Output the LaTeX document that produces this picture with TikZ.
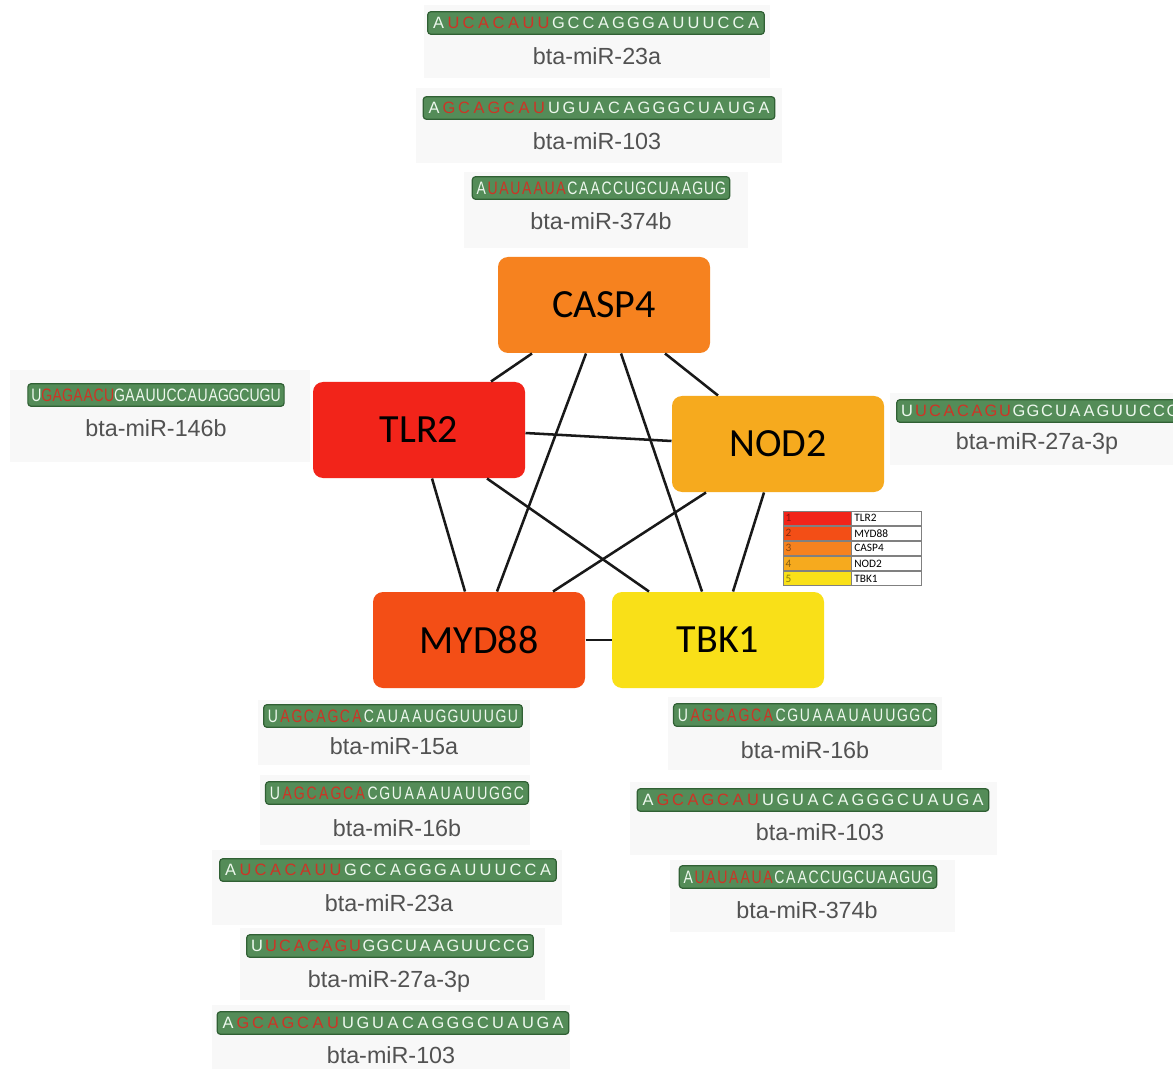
\documentclass[tikz,border=0pt]{standalone}
\usepackage{fontspec}
\setmainfont{Liberation Sans}
\newfontfamily\genefont{Carlito}
\newfontfamily\narrowfont[FakeStretch=0.78]{Liberation Sans}
\usetikzlibrary{positioning}

\definecolor{tlrcol}{RGB}{242,36,26}
\definecolor{mydcol}{RGB}{243,78,22}
\definecolor{caspcol}{RGB}{246,130,31}
\definecolor{nodcol}{RGB}{246,170,30}
\definecolor{tbkcol}{RGB}{249,224,24}
\definecolor{bargreen}{RGB}{84,140,88}
\definecolor{bardark}{RGB}{48,96,52}
\definecolor{seedred}{RGB}{205,52,38}
\definecolor{ntwhite}{RGB}{238,248,238}
\definecolor{panelgray}{RGB}{248,248,248}
\definecolor{labelgray}{RGB}{82,82,82}

% one letter per fixed slot
\newlength\slotw
\def\slotseq#1{\slotseqi#1\relax}
\def\slotseqi#1{\ifx#1\relax\else\makebox[\slotw]{#1}\expandafter\slotseqi\fi}
\newcommand\rnaseq[4]{\setlength\slotw{#1}%
  \textcolor{ntwhite}{\slotseq{#2}}%
  \textcolor{seedred}{\slotseq{#3}}%
  \textcolor{ntwhite}{\slotseq{#4}}}

\tikzset{every picture/.style={line width=0.75pt}}
\tikzset{
  gene/.style={rounded corners=7.5pt, minimum width=159pt, minimum height=72pt,
    font=\genefont\fontsize{30}{36}\selectfont, text=black},
  link/.style={line width=1.9pt, black!90},
  panel/.style={fill=panelgray},
  seqbar/.style={draw=bardark, line width=0.9pt, fill=bargreen, rounded corners=2.5pt,
    inner xsep=2.5pt, inner ysep=0pt, minimum height=17pt,
    font=\fontsize{12.3}{13}\selectfont},
  narrowbar/.style={seqbar, font=\narrowfont\fontsize{13.5}{14}\selectfont},
  mirlabel/.style={text=labelgray, font=\fontsize{17.5}{19}\selectfont, inner sep=0pt},
  legswatch/.style={draw=gray, line width=0.5pt, text width=47pt, inner xsep=2pt,
    inner ysep=0pt, minimum height=10.8pt, align=left, font=\genefont\fontsize{8.5}{9}\selectfont},
  legname/.style={legswatch, fill=white, text=black, text width=48.5pt},
}

\begin{document}
\begin{tikzpicture}[x=0.75pt,y=0.75pt,yscale=-1,xscale=1]
\useasboundingbox (0,0) rectangle (1173,1069);
\clip (0,0) rectangle (1173,1069);
\fill [white] (0,0) rectangle (1173,1069);

%Shape: Rectangle (panels behind the miRNA cards)
\fill [panel] (424,5) rectangle (770,78);
\fill [panel] (416,88) rectangle (782,163);
\fill [panel] (464,172) rectangle (748,248);
\fill [panel] (10,370) rectangle (310,462);
\fill [panel] (890,393) rectangle (1180,465);
\fill [panel] (258,700) rectangle (530,765);
\fill [panel] (260,775) rectangle (530,845);
\fill [panel] (212,850) rectangle (562,925);
\fill [panel] (240,928) rectangle (545,1000);
\fill [panel] (212,1005) rectangle (570,1069);
\fill [panel] (668,697) rectangle (942,770);
\fill [panel] (630,782) rectangle (997,855);
\fill [panel] (670,860) rectangle (955,932);

% Gene nodes
\node [gene, fill=caspcol] (casp4) at (604,305) {CASP4};
\node [gene, fill=tlrcol] (tlr2) at (419,430) {TLR2};
\node [gene, fill=nodcol] (nod2) at (778,444) {NOD2};
\node [gene, fill=mydcol] (myd88) at (479,640) {MYD88};
\node [gene, fill=tbkcol] (tbk1) at (718,640) {TBK1};

%Straight Lines
\draw [link] ([xshift=-54pt]casp4.south) -- ([xshift=54pt]tlr2.north);
\draw [link] ([xshift=-13.5pt]casp4.south) -- ([xshift=13.5pt]myd88.north);
\draw [link] ([xshift=12.75pt]casp4.south) -- ([xshift=-12pt]tbk1.north);
\draw [link] ([xshift=45.75pt]casp4.south) -- ([xshift=-45pt]nod2.north);
\draw [link] ([yshift=2.25pt]tlr2.east) -- ([yshift=-2.25pt]nod2.west);
\draw [link] ([xshift=9.75pt]tlr2.south) -- ([xshift=-10.5pt]myd88.north);
\draw [link] ([xshift=51pt]tlr2.south) -- ([xshift=-51.75pt]tbk1.north);
\draw [link] ([xshift=-54pt]nod2.south) -- ([xshift=55.5pt]myd88.north);
\draw [link] ([xshift=-10.5pt]nod2.south) -- ([xshift=11.25pt]tbk1.north);
\draw [link] (myd88.east) -- (tbk1.west);

% Text Node (miRNA cards, top)
\node [seqbar] (top23a) at (596,23) {\rnaseq{11.25pt}{A}{UCACAUU}{GCCAGGGAUUUCCA}};
\node [mirlabel] (top23alab) at (597,56) {bta-miR-23a};
\node [seqbar] (top103) at (599,108) {\rnaseq{11.25pt}{A}{GCAGCAU}{UGUACAGGGCUAUGA}};
\node [mirlabel] (top103lab) at (597,141) {bta-miR-103};
\node [narrowbar] (top374b) at (601,188) {\rnaseq{8.55pt}{A}{UAUAAUA}{CAACCUGCUAAGUG}};
\node [mirlabel] (top374blab) at (601,221) {bta-miR-374b};

% Text Node (miRNA cards, sides)
\node [narrowbar] (left146b) at (156,395) {\rnaseq{7.8pt}{U}{GAGAACU}{GAAUUCCAUAGGCUGU}};
\node [mirlabel] (left146blab) at (156,428) {bta-miR-146b};
\node [seqbar] (right27a) at (1040,411) {\rnaseq{10.5pt}{U}{UCACAGU}{GGCUAAGUUCCG}};
\node [mirlabel] (right27alab) at (1037,443) {bta-miR-27a-3p};

% Text Node (miRNA cards, bottom left)
\node [narrowbar] (bl15a) at (393,716) {\rnaseq{9pt}{U}{AGCAGCA}{CAUAAUGGUUUGU}};
\node [mirlabel] (bl15alab) at (394,746) {bta-miR-15a};
\node [narrowbar] (bl16b) at (397,793) {\rnaseq{9.15pt}{U}{AGCAGCA}{CGUAAAUAUUGGC}};
\node [mirlabel] (bl16blab) at (397,828) {bta-miR-16b};
\node [seqbar] (bl23a) at (388,870) {\rnaseq{11.25pt}{A}{UCACAUU}{GCCAGGGAUUUCCA}};
\node [mirlabel] (bl23alab) at (389,903) {bta-miR-23a};
\node [seqbar] (bl27a) at (390,946) {\rnaseq{10.5pt}{U}{UCACAGU}{GGCUAAGUUCCG}};
\node [mirlabel] (bl27alab) at (389,981) {bta-miR-27a-3p};
\node [seqbar] (bl103) at (393,1023) {\rnaseq{11.25pt}{A}{GCAGCAU}{UGUACAGGGCUAUGA}};
\node [mirlabel] (bl103lab) at (391,1055) {bta-miR-103};

% Text Node (miRNA cards, bottom right)
\node [narrowbar] (br16b) at (805,715) {\rnaseq{9.15pt}{U}{AGCAGCA}{CGUAAAUAUUGGC}};
\node [mirlabel] (br16blab) at (805,750) {bta-miR-16b};
\node [seqbar] (br103) at (813,800) {\rnaseq{11.25pt}{A}{GCAGCAU}{UGUACAGGGCUAUGA}};
\node [mirlabel] (br103lab) at (820,832) {bta-miR-103};
\node [narrowbar] (br374b) at (808,877) {\rnaseq{8.55pt}{A}{UAUAAUA}{CAACCUGCUAAGUG}};
\node [mirlabel] (br374blab) at (807,910) {bta-miR-374b};

% Legend
\node [legswatch, fill=tlrcol, text=tlrcol!55!black] (sw1) at (817,518.2) {1};
\node [legswatch, fill=mydcol, text=mydcol!55!black, below=0pt of sw1] (sw2) {2};
\node [legswatch, fill=caspcol, text=caspcol!55!black, below=0pt of sw2] (sw3) {3};
\node [legswatch, fill=nodcol, text=nodcol!55!black, below=0pt of sw3] (sw4) {4};
\node [legswatch, fill=tbkcol, text=tbkcol!55!black, below=0pt of sw4] (sw5) {5};
\node [legname, right=0pt of sw1] (nm1) {TLR2};
\node [legname, right=0pt of sw2] (nm2) {MYD88};
\node [legname, right=0pt of sw3] (nm3) {CASP4};
\node [legname, right=0pt of sw4] (nm4) {NOD2};
\node [legname, right=0pt of sw5] (nm5) {TBK1};

\end{tikzpicture}
\end{document}
